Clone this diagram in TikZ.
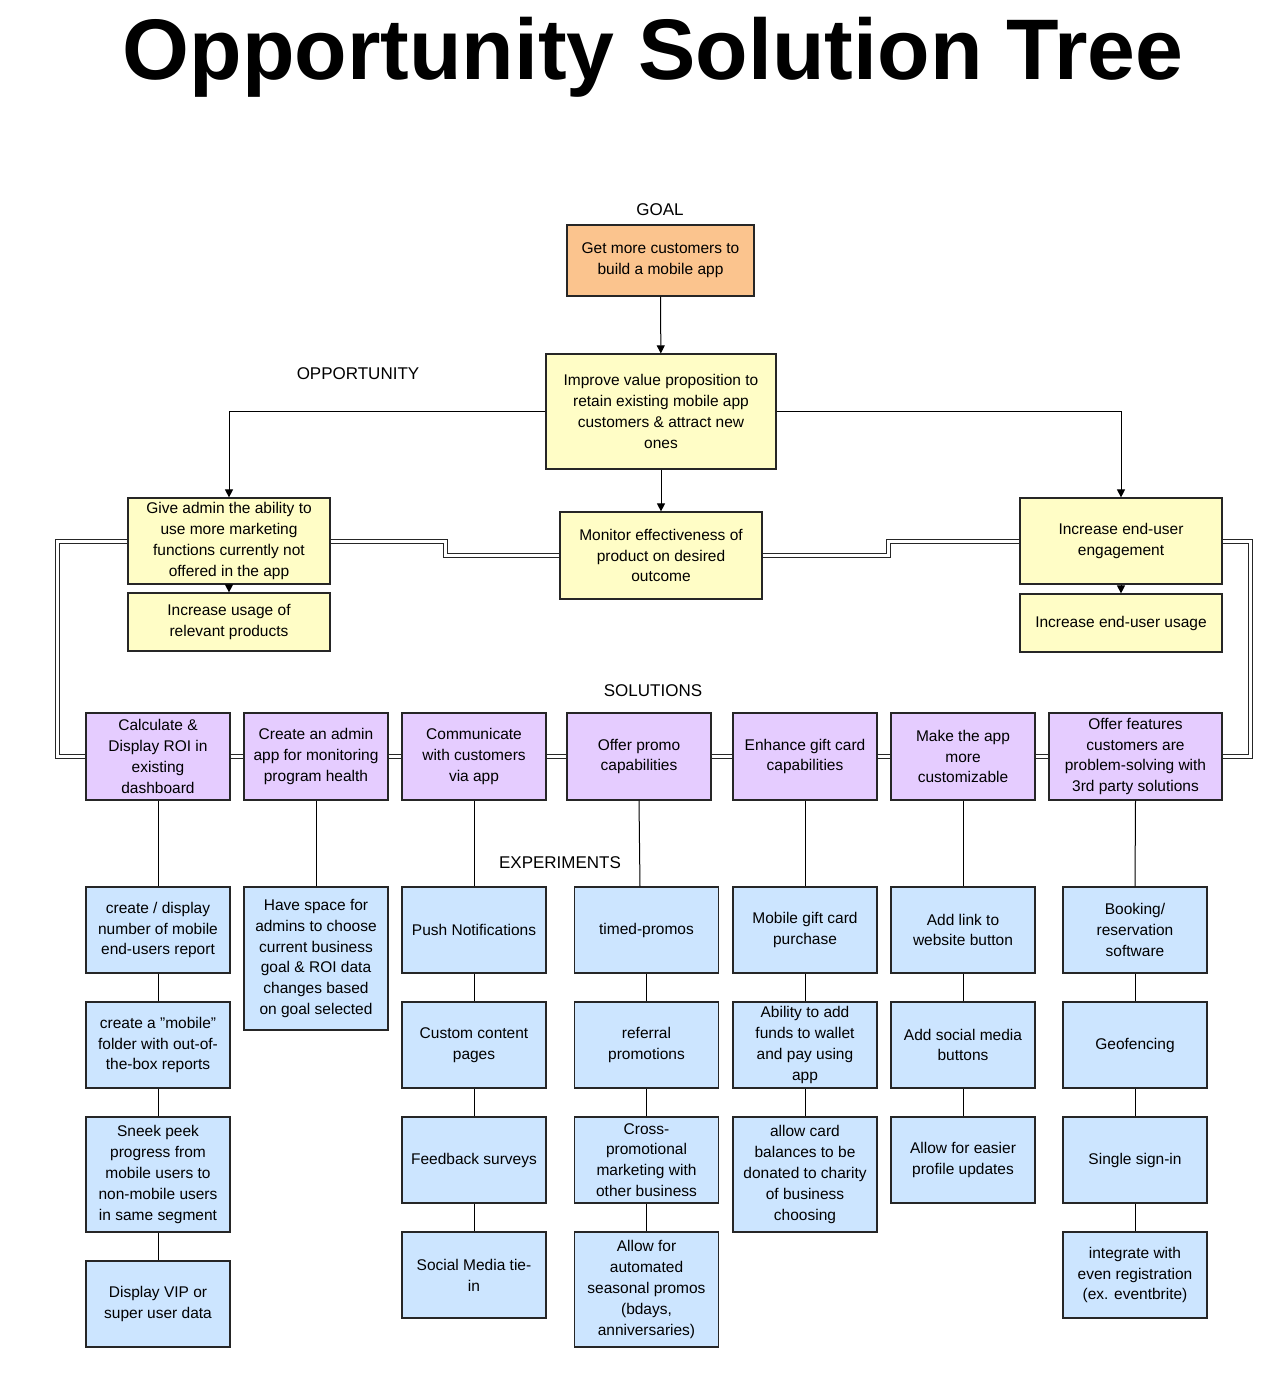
\documentclass[tikz,border=0pt]{standalone}
\usepackage{fontspec}
\setmainfont{Liberation Sans}
\usetikzlibrary{arrows.meta}
\definecolor{yel}{HTML}{FFFDC6}
\definecolor{org}{HTML}{FBC48E}
\definecolor{purp}{HTML}{E5CCFF}
\definecolor{blu}{HTML}{CCE5FF}
\begin{document}
\begin{tikzpicture}[x=1pt,y=-1pt,
 box/.style={draw=black!85, line width=1.2pt, align=center, inner sep=0pt, font=\fontsize{15.5}{20.8}\selectfont},
 yb/.style={box, fill=yel, minimum width=202pt},
 sol/.style={box, fill=purp, minimum width=144pt, minimum height=87pt},
 exp/.style={box, fill=blu, minimum width=144pt, minimum height=86pt},
 lab/.style={font=\fontsize{17}{20}\selectfont},
 arr/.style={line width=1pt, -{Triangle[length=8pt,width=8pt]}},
 ln/.style={line width=1pt},
 dbl/.style={double, double distance=3pt, line width=1pt, draw=black!85}]
\useasboundingbox (0,0) rectangle (1274,1382);
\node[font=\bfseries\fontsize{86}{90}\selectfont] (title) at (653,57) {Opportunity Solution Tree};
\node[lab] (lg) at (660,210) {GOAL};
\node[lab] (lo) at (358,374) {OPPORTUNITY};
\node[lab] (ls) at (653,691) {SOLUTIONS};
\node[lab] (le) at (560,863) {EXPERIMENTS};

\node[box, fill=org, minimum width=187pt, minimum height=71pt] (goal) at (660.5,260.5) {Get more customers to\\build a mobile app};
\node[box, fill=yel, minimum width=230pt, minimum height=115pt] (imp) at (661,411.5) {Improve value proposition to\\retain existing mobile app\\customers \& attract new\\ones};
\node[yb, minimum height=86pt] (admin) at (229,541) {Give admin the ability to\\use more marketing\\functions currently not\\offered in the app};
\node[yb, minimum height=58pt] (usage) at (229,622) {Increase usage of\\relevant products};
\node[yb, minimum height=87pt] (mon) at (661,555.5) {Monitor effectiveness of\\product on desired\\outcome};
\node[yb, minimum height=86pt] (eng) at (1121,541) {Increase end-user\\engagement};
\node[yb, minimum height=58pt] (euse) at (1121,623) {Increase end-user usage};

\node[sol] (s1) at (158,756.5) {Calculate \&\\Display ROI in\\existing\\dashboard};
\node[sol] (s2) at (316,756.5) {Create an admin\\app for monitoring\\program health};
\node[sol] (s3) at (474,756.5) {Communicate\\with customers\\via app};
\node[sol] (s4) at (639,756.5) {Offer promo\\capabilities};
\node[sol] (s5) at (805,756.5) {Enhance gift card\\capabilities};
\node[sol] (s6) at (963,756.5) {Make the app\\more\\customizable};
\node[sol, minimum width=173pt] (s7) at (1135.5,756.5) {Offer features\\customers are\\problem-solving with\\3rd party solutions};

\node[exp] (a1) at (158,930) {create / display\\number of mobile\\end-users report};
\node[exp] (a2) at (158,1045) {create a "mobile"\\folder with out-of-\\the-box reports};
\node[exp, minimum height=115pt] (a3) at (158,1174.5) {Sneek peek\\progress from\\mobile users to\\non-mobile users\\in same segment};
\node[exp] (a4) at (158,1304) {Display VIP or\\super user data};
\node[exp, minimum height=143pt] (b1) at (316,958.5) {Have space for\\admins to choose\\current business\\goal \& ROI data\\changes based\\on goal selected};
\node[exp] (c1) at (474,930) {Push Notifications};
\node[exp] (c2) at (474,1045) {Custom content\\pages};
\node[exp] (c3) at (474,1160) {Feedback surveys};
\node[exp] (c4) at (474,1275) {Social Media tie-\\in};
\node[exp] (d1) at (646.5,930) {timed-promos};
\node[exp] (d2) at (646.5,1045) {referral\\promotions};
\node[exp] (d3) at (646.5,1160) {Cross-\\promotional\\marketing with\\other business};
\node[exp, minimum height=115pt] (d4) at (646.5,1289.5) {Allow for\\automated\\seasonal promos\\(bdays,\\anniversaries)};
\node[exp] (f1) at (805,930) {Mobile gift card\\purchase};
\node[exp] (f2) at (805,1045) {Ability to add\\funds to wallet\\and pay using\\app};
\node[exp, minimum height=115pt] (f3) at (805,1174.5) {allow card\\balances to be\\donated to charity\\of business\\choosing};
\node[exp] (g1) at (963,930) {Add link to\\website button};
\node[exp] (g2) at (963,1045) {Add social media\\buttons};
\node[exp] (g3) at (963,1160) {Allow for easier\\profile updates};
\node[exp] (h1) at (1135,930) {Booking/\\reservation\\software};
\node[exp] (h2) at (1135,1045) {Geofencing};
\node[exp] (h3) at (1135,1160) {Single sign-in};
\node[exp] (h4) at (1135,1275) {integrate with\\even registration\\(ex. eventbrite)};

\draw[arr] (goal) -- (imp);
\draw[arr] (imp.west) -| (admin.north);
\draw[arr] (imp.east) -| (eng.north);
\draw[arr] (imp) -- (mon);
\draw[arr] (admin) -- (usage);
\draw[arr] (eng) -- (euse);

\draw[dbl] (admin.west) -- (57,541) -- (57,756.5) -- (s1.west);
\draw[dbl] (admin.east) -- (445,541) -- (445,555.5) -- (mon.west);
\draw[dbl] (mon.east) -- (888,555.5) -- (888,541) -- (eng.west);
\draw[dbl] (eng.east) -- (1250,541) -- (1250,756.5) -- (s7.east);
\foreach \p/\q in {s1/s2,s2/s3,s3/s4,s4/s5,s5/s6,s6/s7} \draw[dbl] (\p.east) -- (\q.west);

\foreach \p/\q in {s1/a1,a1/a2,a2/a3,a3/a4,s2/b1,s3/c1,c1/c2,c2/c3,c3/c4,s5/f1,f1/f2,f2/f3,s6/g1,g1/g2,g2/g3,s7/h1,h1/h2,h2/h3,h3/h4,d1/d2,d2/d3,d3/d4}
  \draw[ln] (\p.south) -- (\q.north);
\draw[ln] (s4.south) -- ([xshift=-6.5pt]d1.north);
\end{tikzpicture}
\end{document}
